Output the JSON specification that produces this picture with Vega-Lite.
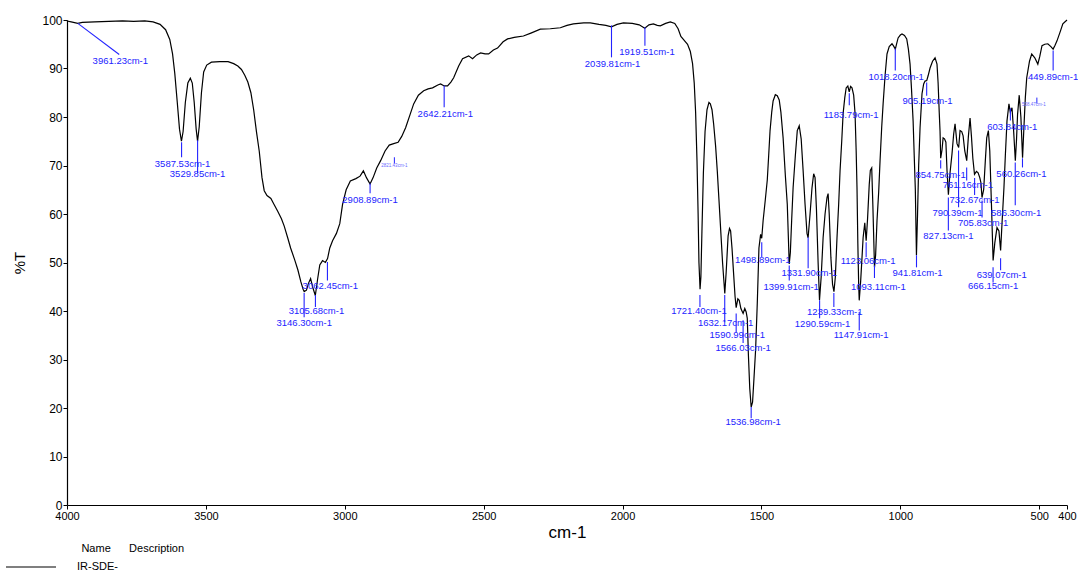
{
  "$schema": "https://vega.github.io/schema/vega-lite/v6.json",
  "autosize": {"type": "none"},
  "padding": {"left": 67, "top": 20, "right": 11, "bottom": 68},
  "width": 1000,
  "height": 485,
  "config": {
    "font": "Liberation Sans Narrow, Liberation Sans, Arial, sans-serif",
    "view": {"stroke": null},
    "axis": {
      "domainColor": "#000000", "tickColor": "#000000", "labelColor": "#000000", "titleColor": "#000000",
      "grid": false, "titleFontWeight": "normal", "labelFontSize": 12, "domainWidth": 1.2, "tickWidth": 1
    },
    "legend": {"titleFontWeight": "normal"}
  },
  "datasets": {
    "spectrum": [
      {"w":4000,"t":99.8},{"w":3985,"t":99.6},{"w":3961,"t":99.3},{"w":3945,"t":99.5},{"w":3900,"t":99.6},{"w":3850,"t":99.7},{"w":3800,"t":99.8},{"w":3760,"t":99.7},{"w":3720,"t":99.8},{"w":3690,"t":99.6},{"w":3665,"t":99.1},{"w":3645,"t":98.0},{"w":3630,"t":96.0},{"w":3620,"t":93},{"w":3612,"t":89},{"w":3603,"t":83},{"w":3595,"t":77.5},{"w":3588,"t":75.0},{"w":3582,"t":77},{"w":3574,"t":83},{"w":3565,"t":87},{"w":3556,"t":88},{"w":3549,"t":87},{"w":3542,"t":83},{"w":3535,"t":77.5},{"w":3530,"t":75.0},{"w":3524,"t":78},{"w":3516,"t":85},{"w":3508,"t":89.3},{"w":3497,"t":90.7},{"w":3480,"t":91.3},{"w":3450,"t":91.4},{"w":3420,"t":91.4},{"w":3400,"t":91},{"w":3385,"t":90.5},{"w":3372,"t":89.8},{"w":3360,"t":88.6},{"w":3349,"t":87.2},{"w":3338,"t":85},{"w":3328,"t":81.5},{"w":3318,"t":77},{"w":3308,"t":73},{"w":3298,"t":67.5},{"w":3290,"t":64.8},{"w":3280,"t":63.8},{"w":3266,"t":63.2},{"w":3255,"t":62},{"w":3241,"t":60.5},{"w":3228,"t":59},{"w":3218,"t":57.5},{"w":3205,"t":55},{"w":3195,"t":53},{"w":3180,"t":50.5},{"w":3169,"t":48.5},{"w":3158,"t":46},{"w":3150,"t":44.5},{"w":3146,"t":44.0},{"w":3138,"t":44.3},{"w":3130,"t":45.8},{"w":3123,"t":46.7},{"w":3116,"t":45},{"w":3106,"t":43.2},{"w":3098,"t":46.5},{"w":3090,"t":49.5},{"w":3080,"t":50.4},{"w":3070,"t":50},{"w":3062,"t":50.8},{"w":3054,"t":53},{"w":3044,"t":54.5},{"w":3030,"t":56},{"w":3018,"t":58},{"w":3008,"t":62},{"w":2995,"t":65},{"w":2980,"t":66.8},{"w":2960,"t":67.3},{"w":2945,"t":67.8},{"w":2933,"t":68.9},{"w":2922,"t":67.5},{"w":2909,"t":66.2},{"w":2898,"t":67.5},{"w":2885,"t":69.5},{"w":2871,"t":71},{"w":2855,"t":73},{"w":2840,"t":74.2},{"w":2824,"t":74.5},{"w":2808,"t":74.8},{"w":2795,"t":76},{"w":2781,"t":77.8},{"w":2765,"t":80.5},{"w":2752,"t":82.7},{"w":2735,"t":84.5},{"w":2716,"t":85.4},{"w":2700,"t":85.8},{"w":2684,"t":86},{"w":2665,"t":86.6},{"w":2655,"t":86.8},{"w":2642,"t":86.4},{"w":2630,"t":86.4},{"w":2618,"t":87.2},{"w":2608,"t":88.1},{"w":2590,"t":90.5},{"w":2576,"t":92},{"w":2554,"t":92.6},{"w":2540,"t":92},{"w":2525,"t":92.8},{"w":2511,"t":93.2},{"w":2495,"t":93},{"w":2482,"t":93},{"w":2465,"t":93.8},{"w":2450,"t":94.2},{"w":2430,"t":95.5},{"w":2414,"t":96.1},{"w":2390,"t":96.4},{"w":2357,"t":96.7},{"w":2330,"t":97.3},{"w":2296,"t":98.1},{"w":2260,"t":98.2},{"w":2224,"t":98.4},{"w":2200,"t":98.9},{"w":2177,"t":99.2},{"w":2140,"t":99.4},{"w":2116,"t":99.4},{"w":2085,"t":99.1},{"w":2060,"t":98.9},{"w":2040,"t":98.6},{"w":2020,"t":99.1},{"w":1997,"t":99.4},{"w":1965,"t":99.3},{"w":1940,"t":99.0},{"w":1920,"t":98.3},{"w":1905,"t":99.0},{"w":1889,"t":99.2},{"w":1875,"t":98.9},{"w":1864,"t":98.8},{"w":1845,"t":99.3},{"w":1828,"t":99.6},{"w":1812,"t":99.3},{"w":1800,"t":98.2},{"w":1790,"t":96.6},{"w":1778,"t":95.8},{"w":1766,"t":95},{"w":1756,"t":93.5},{"w":1748,"t":91},{"w":1742,"t":87},{"w":1737,"t":81},{"w":1732,"t":71},{"w":1728,"t":60},{"w":1725,"t":50},{"w":1721,"t":44.5},{"w":1718,"t":47},{"w":1714,"t":57},{"w":1709,"t":68.5},{"w":1703,"t":77},{"w":1696,"t":81.5},{"w":1689,"t":83},{"w":1684,"t":82.7},{"w":1678,"t":81.5},{"w":1672,"t":78.5},{"w":1665,"t":74},{"w":1659,"t":68.9},{"w":1653,"t":63},{"w":1646,"t":56},{"w":1640,"t":50},{"w":1632,"t":43.6},{"w":1627,"t":48},{"w":1620,"t":55.5},{"w":1615,"t":57},{"w":1611,"t":56.5},{"w":1606,"t":53},{"w":1600,"t":47.5},{"w":1595,"t":43},{"w":1591,"t":40.7},{"w":1585,"t":42.5},{"w":1580,"t":42.2},{"w":1574,"t":40.5},{"w":1566,"t":39.5},{"w":1560,"t":40.5},{"w":1555,"t":39.8},{"w":1551,"t":38.5},{"w":1547,"t":31},{"w":1542,"t":24},{"w":1537,"t":20.2},{"w":1532,"t":21.2},{"w":1527,"t":26},{"w":1521,"t":32},{"w":1515,"t":41.6},{"w":1509,"t":53},{"w":1503,"t":55.8},{"w":1499,"t":55},{"w":1494,"t":58.6},{"w":1486,"t":63},{"w":1479,"t":67},{"w":1474,"t":72},{"w":1469,"t":77.2},{"w":1463,"t":81},{"w":1458,"t":83.3},{"w":1450,"t":84.6},{"w":1443,"t":84.4},{"w":1436,"t":83.5},{"w":1430,"t":81},{"w":1422,"t":75.7},{"w":1414,"t":68},{"w":1407,"t":62},{"w":1403,"t":55},{"w":1400,"t":49.7},{"w":1396,"t":52},{"w":1391,"t":59},{"w":1386,"t":65.4},{"w":1378,"t":72},{"w":1371,"t":77.2},{"w":1364,"t":78.2},{"w":1357,"t":75.5},{"w":1350,"t":69},{"w":1343,"t":62},{"w":1336,"t":56},{"w":1332,"t":55.1},{"w":1325,"t":60},{"w":1318,"t":65.4},{"w":1312,"t":68.3},{"w":1307,"t":67.5},{"w":1302,"t":61},{"w":1296,"t":50},{"w":1291,"t":42.2},{"w":1285,"t":47},{"w":1278,"t":55.1},{"w":1271,"t":60},{"w":1264,"t":63.4},{"w":1260,"t":64.2},{"w":1256,"t":60},{"w":1250,"t":51},{"w":1244,"t":45.5},{"w":1239,"t":44},{"w":1234,"t":47},{"w":1228,"t":55.1},{"w":1222,"t":62},{"w":1217,"t":68.9},{"w":1211,"t":75},{"w":1206,"t":80.7},{"w":1200,"t":84},{"w":1195,"t":86},{"w":1189,"t":86.4},{"w":1184,"t":85.2},{"w":1179,"t":86.3},{"w":1174,"t":86},{"w":1168,"t":84.5},{"w":1163,"t":80.7},{"w":1159,"t":73},{"w":1156,"t":65.4},{"w":1153,"t":54},{"w":1150,"t":45.5},{"w":1148,"t":42.2},{"w":1143,"t":46},{"w":1138,"t":51},{"w":1134,"t":55.1},{"w":1128,"t":58.2},{"w":1123,"t":54.5},{"w":1118,"t":59},{"w":1112,"t":66},{"w":1108,"t":69},{"w":1103,"t":69.5},{"w":1099,"t":62},{"w":1093,"t":49},{"w":1089,"t":51.5},{"w":1084,"t":58.6},{"w":1078,"t":64.5},{"w":1073,"t":71},{"w":1067,"t":78},{"w":1062,"t":82.7},{"w":1055,"t":88.5},{"w":1048,"t":93},{"w":1040,"t":94.5},{"w":1030,"t":95.1},{"w":1024,"t":94.6},{"w":1018,"t":94.0},{"w":1013,"t":95.2},{"w":1008,"t":96.3},{"w":1000,"t":96.9},{"w":994,"t":97.1},{"w":985,"t":96.8},{"w":977,"t":96.1},{"w":971,"t":94},{"w":965,"t":90.9},{"w":960,"t":86},{"w":954,"t":79.2},{"w":950,"t":72},{"w":946,"t":65},{"w":942,"t":51.5},{"w":938,"t":60},{"w":934,"t":70},{"w":929,"t":77.8},{"w":922,"t":84.8},{"w":916,"t":86.8},{"w":911,"t":87.4},{"w":905,"t":87.5},{"w":900,"t":88.5},{"w":893,"t":90.1},{"w":884,"t":91.5},{"w":875,"t":92.2},{"w":868,"t":90.9},{"w":864,"t":87},{"w":860,"t":81},{"w":857,"t":77},{"w":854.75,"t":71.5},{"w":850,"t":73.2},{"w":846,"t":75.7},{"w":841,"t":75.5},{"w":836,"t":74.8},{"w":832,"t":69},{"w":827,"t":64},{"w":822,"t":68},{"w":814,"t":72.4},{"w":808,"t":76.5},{"w":803,"t":78.6},{"w":796,"t":74.5},{"w":790,"t":73.7},{"w":785,"t":77.2},{"w":779,"t":77},{"w":774,"t":76.1},{"w":768,"t":73},{"w":761,"t":71},{"w":755,"t":76},{"w":749,"t":79.8},{"w":744,"t":76},{"w":739,"t":71.5},{"w":733,"t":68.2},{"w":726,"t":68.8},{"w":720,"t":68.5},{"w":714,"t":67.5},{"w":710,"t":66.5},{"w":706,"t":63.4},{"w":700,"t":65},{"w":694,"t":71},{"w":689,"t":75.7},{"w":683,"t":77.2},{"w":678,"t":73},{"w":672,"t":62},{"w":666,"t":50.4},{"w":660,"t":54},{"w":652,"t":57.2},{"w":645,"t":56.5},{"w":639,"t":52.5},{"w":634,"t":58},{"w":627,"t":65.4},{"w":622,"t":72},{"w":616,"t":79.2},{"w":609,"t":82.7},{"w":604,"t":81},{"w":598,"t":81.9},{"w":592,"t":77},{"w":586,"t":71},{"w":582,"t":75},{"w":578,"t":80.5},{"w":572,"t":84.5},{"w":566,"t":80},{"w":560,"t":71.6},{"w":555,"t":78},{"w":550,"t":84},{"w":545,"t":88.1},{"w":535,"t":91.5},{"w":527,"t":93},{"w":516,"t":92.2},{"w":505,"t":90.9},{"w":498,"t":92.5},{"w":490,"t":94.7},{"w":480,"t":95},{"w":469,"t":95.1},{"w":458,"t":94.5},{"w":450,"t":94},{"w":443,"t":94.8},{"w":436,"t":95.7},{"w":425,"t":97.5},{"w":415,"t":99.2},{"w":400,"t":100}
    ],
    "peaks": [
      {"label":"3961.23cm-1","x1":3961,"x2":3812,"y1":99.3,"y2":92.9,"lx":3808,"ly":91.6},
      {"label":"3587.53cm-1","x1":3587.53,"x2":3587.53,"y1":74.8,"y2":71.7,"lx":3584,"ly":70.4},
      {"label":"3529.85cm-1","x1":3529.85,"x2":3529.85,"y1":75.2,"y2":68.4,"lx":3530,"ly":68.2},
      {"label":"3146.30cm-1","x1":3146.3,"x2":3146.3,"y1":43.7,"y2":38.7,"lx":3146,"ly":37.5},
      {"label":"3105.68cm-1","x1":3105.68,"x2":3105.68,"y1":43.3,"y2":40.8,"lx":3102,"ly":40.0},
      {"label":"3062.45cm-1","x1":3062.45,"x2":3062.45,"y1":50.1,"y2":46.3,"lx":3052,"ly":45.1},
      {"label":"2908.89cm-1","x1":2908.89,"x2":2908.89,"y1":66.3,"y2":64.3,"lx":2909,"ly":62.8},
      {"label":"2642.21cm-1","x1":2642.21,"x2":2642.21,"y1":86.5,"y2":82.0,"lx":2638,"ly":80.7},
      {"label":"2039.81cm-1","x1":2039.81,"x2":2039.81,"y1":98.9,"y2":92.3,"lx":2036,"ly":91.0},
      {"label":"1919.51cm-1","x1":1919.51,"x2":1919.51,"y1":98.5,"y2":94.7,"lx":1912,"ly":93.5},
      {"label":"1721.40cm-1","x1":1721.4,"x2":1721.4,"y1":43.3,"y2":40.8,"lx":1725,"ly":40.0},
      {"label":"1632.17cm-1","x1":1632.17,"x2":1632.17,"y1":43.3,"y2":37.7,"lx":1629,"ly":37.5},
      {"label":"1590.99cm-1","x1":1590.99,"x2":1590.99,"y1":39.5,"y2":35.6,"lx":1587,"ly":35.0},
      {"label":"1566.03cm-1","x1":1566.03,"x2":1566.03,"y1":38.1,"y2":33.4,"lx":1566,"ly":32.3},
      {"label":"1536.98cm-1","x1":1536.98,"x2":1536.98,"y1":20.2,"y2":17.9,"lx":1530,"ly":17.1},
      {"label":"1498.89cm-1","x1":1498.89,"x2":1498.89,"y1":54.2,"y2":51.1,"lx":1495,"ly":50.5},
      {"label":"1399.91cm-1","x1":1399.91,"x2":1399.91,"y1":49.4,"y2":46.3,"lx":1393,"ly":44.9},
      {"label":"1331.90cm-1","x1":1331.9,"x2":1331.9,"y1":55.2,"y2":48.8,"lx":1328,"ly":47.8},
      {"label":"1290.59cm-1","x1":1290.59,"x2":1290.59,"y1":42.2,"y2":38.5,"lx":1280,"ly":37.3},
      {"label":"1239.33cm-1","x1":1239.33,"x2":1239.33,"y1":43.7,"y2":40.8,"lx":1236,"ly":39.8},
      {"label":"1183.79cm-1","x1":1183.79,"x2":1183.79,"y1":84.9,"y2":82.4,"lx":1177,"ly":80.5},
      {"label":"1147.91cm-1","x1":1147.91,"x2":1147.91,"y1":39.8,"y2":36.0,"lx":1141,"ly":35.0},
      {"label":"1123.06cm-1","x1":1123.06,"x2":1123.06,"y1":54.2,"y2":51.1,"lx":1116,"ly":50.3},
      {"label":"1093.11cm-1","x1":1093.11,"x2":1093.11,"y1":49.4,"y2":46.8,"lx":1079,"ly":44.9},
      {"label":"1018.20cm-1","x1":1018.2,"x2":1018.2,"y1":94.1,"y2":89.6,"lx":1015,"ly":88.2},
      {"label":"905.19cm-1","x1":905.19,"x2":905.19,"y1":87.1,"y2":84.4,"lx":902,"ly":83.4},
      {"label":"941.81cm-1","x1":941.81,"x2":941.81,"y1":51.5,"y2":49.0,"lx":938,"ly":47.8},
      {"label":"854.75cm-1","x1":854.75,"x2":854.75,"y1":71.1,"y2":69.4,"lx":855,"ly":68.0},
      {"label":"827.13cm-1","x1":827.13,"x2":827.13,"y1":63.4,"y2":56.6,"lx":827,"ly":55.4},
      {"label":"790.39cm-1","x1":790.39,"x2":790.39,"y1":73.1,"y2":61.4,"lx":794,"ly":60.3},
      {"label":"761.16cm-1","x1":761.16,"x2":761.16,"y1":69.6,"y2":66.9,"lx":757,"ly":65.9},
      {"label":"732.67cm-1","x1":732.67,"x2":732.67,"y1":67.4,"y2":63.9,"lx":733,"ly":62.8},
      {"label":"705.83cm-1","x1":705.83,"x2":705.83,"y1":62.8,"y2":59.3,"lx":702,"ly":58.1},
      {"label":"666.15cm-1","x1":666.15,"x2":666.15,"y1":49.0,"y2":45.9,"lx":666,"ly":45.1},
      {"label":"639.07cm-1","x1":639.07,"x2":639.07,"y1":50.9,"y2":48.4,"lx":635,"ly":47.4},
      {"label":"603.84cm-1","x1":603.84,"x2":603.84,"y1":81.8,"y2":79.3,"lx":597,"ly":78.0},
      {"label":"586.30cm-1","x1":586.3,"x2":586.3,"y1":70.6,"y2":61.8,"lx":583,"ly":60.3},
      {"label":"560.26cm-1","x1":560.26,"x2":560.26,"y1":71.5,"y2":69.6,"lx":564,"ly":68.2},
      {"label":"449.89cm-1","x1":449.89,"x2":449.89,"y1":93.7,"y2":89.6,"lx":450,"ly":88.2}
    ],
    "faint": [
      {"label":"2821.43cm-1","x1":2821.43,"x2":2821.43,"y1":71.7,"y2":70.4,"lx":2821,"ly":70.0},
      {"label":"508.47cm-1","x1":508.47,"x2":508.47,"y1":84.0,"y2":82.8,"lx":519,"ly":82.4}
    ]
  },
  "layer": [
    {
      "data": {"name": "spectrum"},
      "mark": {"type": "line", "strokeWidth": 1.2, "interpolate": "linear"},
      "encoding": {
        "x": {"field": "w", "type": "quantitative",
              "scale": {"domain": [400, 4000], "reverse": true, "nice": false, "zero": false},
              "axis": {"values": [4000, 3500, 3000, 2500, 2000, 1500, 1000, 500, 400], "format": "d", "title": "cm-1", "titleFontSize": 17, "titlePadding": 3, "tickSize": 4, "labelPadding": 1, "labelFlush": false, "labelOverlap": false, "labelFontSize": 11}},
        "y": {"field": "t", "type": "quantitative",
              "scale": {"domain": [0, 100], "nice": false},
              "axis": {"values": [0, 10, 20, 30, 40, 50, 60, 70, 80, 90, 100], "title": "%T", "titleFontSize": 15, "titlePadding": 14, "tickSize": 4, "labelPadding": 1}},
        "color": {"datum": "IR-SDE-", "scale": {"range": ["#000000"]},
                  "legend": {"orient": "none", "legendX": -62, "legendY": 523,
                             "title": "\u200b\u00a0\u00a0\u00a0\u00a0\u00a0\u00a0\u00a0\u00a0\u00a0\u00a0\u00a0\u00a0\u00a0\u00a0\u00a0\u00a0\u00a0\u00a0\u00a0\u00a0\u00a0\u00a0\u00a0\u00a0\u00a0Name\u00a0\u00a0\u00a0\u00a0\u00a0\u00a0Description",
                             "titleFontSize": 11, "titleColor": "#000000", "titlePadding": -13,
                             "symbolType": "stroke", "symbolSize": 2500, "symbolStrokeWidth": 1.2,
                             "labelOffset": 20, "labelFontSize": 11, "labelColor": "#000000", "padding": 0}}
      }
    },
    {
      "data": {"name": "peaks"},
      "mark": {"type": "rule", "color": "#2323ff", "strokeWidth": 1.1},
      "encoding": {
        "x": {"field": "x1", "type": "quantitative"},
        "x2": {"field": "x2"},
        "y": {"field": "y1", "type": "quantitative"},
        "y2": {"field": "y2"}
      }
    },
    {
      "data": {"name": "peaks"},
      "mark": {"type": "text", "color": "#2323ff", "fontSize": 9.5, "align": "center", "baseline": "middle", "letterSpacing": -0.5},
      "encoding": {
        "x": {"field": "lx", "type": "quantitative"},
        "y": {"field": "ly", "type": "quantitative"},
        "text": {"field": "label"}
      }
    },
    {
      "data": {"name": "faint"},
      "mark": {"type": "rule", "color": "#2323ff", "strokeWidth": 1},
      "encoding": {
        "x": {"field": "x1", "type": "quantitative"},
        "x2": {"field": "x2"},
        "y": {"field": "y1", "type": "quantitative"},
        "y2": {"field": "y2"}
      }
    },
    {
      "data": {"name": "faint"},
      "mark": {"type": "text", "color": "#6a6aff", "fontSize": 4.5, "align": "center", "baseline": "middle"},
      "encoding": {
        "x": {"field": "lx", "type": "quantitative"},
        "y": {"field": "ly", "type": "quantitative"},
        "text": {"field": "label"}
      }
    }
  ]
}
